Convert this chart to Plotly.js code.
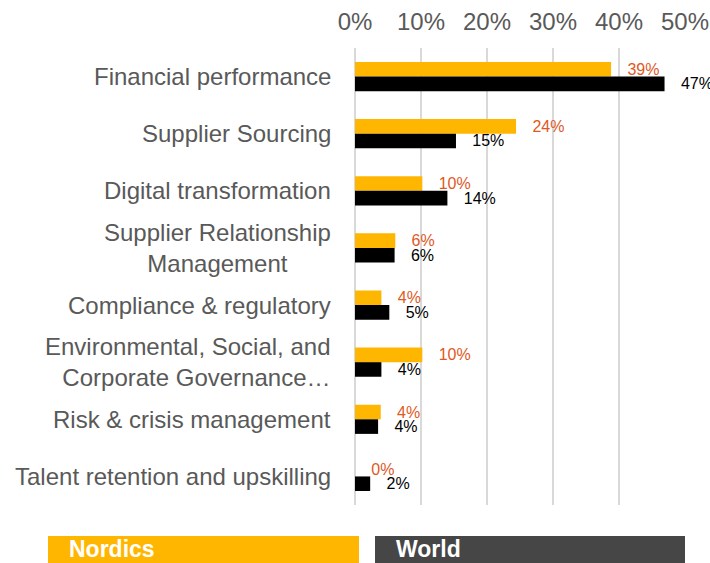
<!DOCTYPE html>
<html>
<head>
<meta charset="utf-8">
<script src="https://cdn.plot.ly/plotly-3.0.1.min.js"></script>
<style>html,body{margin:0;padding:0;background:#fff;}#chart{width:710px;height:563px;}</style>
</head>
<body>
<div id="chart"></div>
<script>
const categories = [
  "Financial performance",
  "Supplier Sourcing",
  "Digital transformation",
  "Supplier Relationship<br>Management",
  "Compliance & regulatory",
  "Environmental, Social, and<br>Corporate Governance…",
  "Risk & crisis management",
  "Talent retention and upskilling"
];
const seriesNames = ["Nordics", "World"];
const nordics = [38.8, 24.4, 10.2, 6.1, 4.0, 10.2, 3.9, 0];
const world = [46.9, 15.3, 14.0, 6.0, 5.2, 4.0, 3.5, 2.3];
const xTicks = [0, 10, 20, 30, 40, 50];

const FONT = "Liberation Sans, Arial, sans-serif";
const W = 710, H = 563;
const M = {l: 355, r: 25, t: 48, b: 58};
const pw = W - M.l - M.r, ph = H - M.t - M.b;
const px = v => (v - M.l) / pw;
const py = v => (H - M.b - v) / ph;

const pad = "\u00a0\u00a0\u00a0";
const pctText = arr => arr.map(v => pad + Math.round(v) + "%");
const traces = [
  {type: "bar", orientation: "h", name: seriesNames[0], y: categories, x: nordics,
   marker: {color: "#FFB600"}, text: pctText(nordics), texttemplate: "%{text}", textposition: "outside",
   textfont: {family: FONT, size: 16, color: "#E0591E"}, constraintext: "none", cliponaxis: false,
   hoverinfo: "skip"},
  {type: "bar", orientation: "h", name: seriesNames[1], y: categories, x: world,
   marker: {color: "#000000"}, text: pctText(world), texttemplate: "%{text}", textposition: "outside",
   textfont: {family: FONT, size: 16, color: "#000000"}, constraintext: "none", cliponaxis: false,
   hoverinfo: "skip"}
];

const annotations = categories.map((c, i) => ({
  xref: "paper", yref: "y", x: 0, y: c, xanchor: "right", yanchor: "middle", xshift: -22,
  text: c, showarrow: false, align: i === 3 ? "center" : "right",
  font: {family: FONT, size: 24, color: "#595959"}
}));
annotations.push(
  {xref: "paper", yref: "paper", x: px(67), y: py(549), xanchor: "left", yanchor: "middle",
   text: "<b>" + seriesNames[0] + "</b>", showarrow: false, font: {family: FONT, size: 23, color: "#ffffff"}},
  {xref: "paper", yref: "paper", x: px(394), y: py(549), xanchor: "left", yanchor: "middle",
   text: "<b>" + seriesNames[1] + "</b>", showarrow: false, font: {family: FONT, size: 23, color: "#ffffff"}}
);

const shapes = [
  {type: "rect", xref: "paper", yref: "paper", x0: px(48), x1: px(359), y0: py(536), y1: py(570),
   fillcolor: "#FFB600", line: {width: 0}, layer: "below"},
  {type: "rect", xref: "paper", yref: "paper", x0: px(375), x1: px(685), y0: py(536), y1: py(570),
   fillcolor: "#464646", line: {width: 0}, layer: "below"}
];

const layout = {
  width: W, height: H, margin: M,
  paper_bgcolor: "#ffffff", plot_bgcolor: "#ffffff",
  showlegend: false, barmode: "group", bargap: 0.49, bargroupgap: 0,
  font: {family: FONT},
  xaxis: {side: "top", range: [0, 50], tickvals: xTicks, ticktext: xTicks.map(v => v + "%"),
    showgrid: true, gridcolor: "#d9d9d9", gridwidth: 2, zeroline: true, zerolinecolor: "#d9d9d9",
    zerolinewidth: 2, showline: false, ticks: "", ticklabelstandoff: 12,
    tickfont: {family: FONT, size: 24, color: "#595959"}, fixedrange: true},
  yaxis: {type: "category", autorange: "reversed", showticklabels: false, showgrid: false,
    zeroline: false, showline: false, ticks: "", fixedrange: true},
  annotations: annotations,
  shapes: shapes
};

Plotly.newPlot("chart", traces, layout, {displayModeBar: false, staticPlot: true});
</script>
</body>
</html>
